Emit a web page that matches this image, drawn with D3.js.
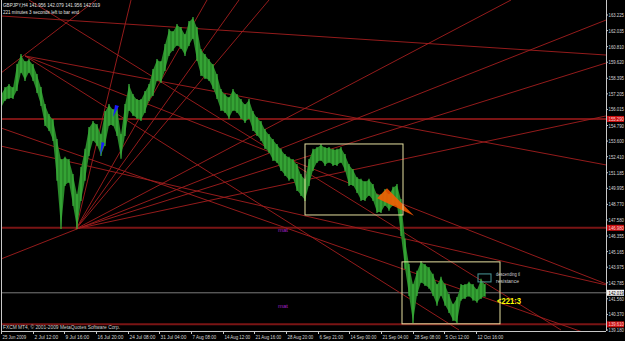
<!DOCTYPE html>
<html><head><meta charset="utf-8">
<script src="https://cdn.jsdelivr.net/npm/d3@7"></script>
<style>body{margin:0;background:#000;overflow:hidden}svg{display:block}text{font-family:"Liberation Sans",Arial,sans-serif}</style>
</head><body>
<svg id="c" width="625" height="341"></svg>
<script>
// ---- data (H4 bars, sampled every 4 bars) ----
const barStep = 4;
const high = [157.12,157.66,157.88,157.66,159.41,160.17,159.64,159.79,159.41,158.65,157.66,156.36,155.60,155.21,153.69,152.16,152.32,152.16,151.02,149.49,151.55,152.93,154.60,155.06,154.83,154.07,155.82,156.36,155.98,156.13,154.07,156.36,157.88,157.12,156.74,156.74,157.35,157.88,159.03,159.79,159.64,160.94,162.08,161.93,162.46,162.23,161.70,162.69,163.00,162.23,160.56,160.17,159.79,159.41,158.65,157.50,157.12,156.89,157.50,157.12,156.74,156.36,156.74,155.82,155.37,155.06,154.45,154.07,153.69,153.31,152.93,152.54,152.32,152.16,151.78,151.02,150.64,152.16,152.93,153.08,153.31,153.08,153.08,152.93,152.93,153.08,152.54,151.78,151.40,150.79,150.64,150.48,150.64,150.25,149.49,149.49,149.87,149.49,150.03,150.25,149.11,146.06,144.15,142.62,143.62,144.38,144.15,143.92,143.39,142.62,143.16,142.62,141.86,141.10,141.63,142.62,142.62,142.78,142.62,142.24,143.01,142.62];
const low = [156.13,156.74,156.89,156.89,157.50,158.88,158.27,158.88,158.27,157.35,156.36,154.83,154.45,153.69,150.64,146.97,150.25,150.48,148.73,146.97,149.11,150.64,152.54,153.69,153.31,152.54,153.31,154.83,154.83,154.07,152.32,154.07,155.98,155.60,155.37,155.21,155.82,156.74,157.12,158.27,158.11,159.03,160.17,160.56,160.94,160.71,160.17,160.94,161.47,159.79,158.65,158.42,158.27,157.66,156.89,155.98,155.82,155.37,155.98,155.82,155.37,155.06,155.37,154.45,154.07,153.69,153.08,152.77,152.16,152.01,151.40,151.02,150.64,150.79,149.87,149.49,149.11,150.25,151.40,152.01,152.16,151.78,152.01,151.78,151.78,152.01,151.40,150.25,150.25,149.72,149.11,149.11,149.49,149.11,148.19,148.19,148.73,148.35,148.73,148.73,146.44,143.92,141.86,139.80,141.86,142.85,142.62,142.40,141.86,141.10,141.86,141.10,140.56,139.95,139.80,141.48,141.63,141.79,141.48,141.33,141.63,141.79];

const priceTicks = [163.225,162.035,160.810,159.620,158.395,157.205,156.015,154.790,153.600,152.410,151.185,149.995,148.770,147.580,146.355,145.165,143.975,142.785,141.560,140.370,139.180];
const priceTickLabels = ["163.225","162.035","160.810","159.620","158.395","157.205","156.015","154.790","153.600","152.410","151.185","149.995","148.770","147.580","146.355","145.165","143.975","142.785","141.560","140.370","139.180"];
const dateBars = [0,32,63,95,127,158,190,222,253,285,317,348,380,412,443,475];
const dateLabels = ["25 Jun 2009","2 Jul 12:00","9 Jul 16:00","16 Jul 20:00","24 Jul 08:00","31 Jul 04:00","7 Aug 08:00","14 Aug 12:00","21 Aug 16:00","28 Aug 20:00","6 Sep 21:00","14 Sep 00:00","21 Sep 04:00","28 Sep 08:00","5 Oct 12:00","12 Oct 16:00"];

const hLevels = [155.290, 146.980, 139.610];
const hLevelLabels = ["155.290","146.980","139.610"];
const bid = 142.019;
const bidLabel = "142.019";

// trendlines: [bar1, price1, bar2, price2]
const trendlines = [
  [0,163.15,605,160.17],
  [0,158.80,95,164.37],
  [24,160.10,605,151.78],
  [24,160.10,605,142.70],
  [24,160.10,458,139.18],
  [0,144.60,605,162.84],
  [75,146.90,605,159.56],
  [75,146.90,605,155.52],
  [75,146.90,510,164.37],
  [75,146.90,268,164.37],
  [75,146.90,238,164.37],
  [75,146.90,206,164.37],
  [75,146.90,130,164.37],
  [0,153.22,605,142.62],
  [0,154.60,605,138.40],
  [28,164.37,560,139.18]
];
// rectangles: [bar1, price1, bar2, price2]
const boxes = [[304,153.38,402,147.96],[401,144.38,499,139.65]];
const smallBox = [477,143.46,490,142.85];
const orangeTri = [[376,149.24],[386,150.00],[413,147.90]];
const blueTris = [[[112,155.44],[114,156.35],[118,156.28]],[[99,152.46],[100.5,153.53],[103.5,153.45]]];
const notes = [
  {bar:277, price:146.66, text:"mat"},
  {bar:277, price:140.86, text:"mat"}
];

// ---- drawing ----
const W=625, H=341, plotR=606, plotB=331;
const svg = d3.select("#c");
svg.append("rect").attr("width",W).attr("height",H).attr("fill","#000");
const x = d3.scaleLinear().domain([0,605]).range([1,606]);
const y = d3.scaleLinear().domain([139.18,163.225]).range([330,15]);

svg.append("defs").append("clipPath").attr("id","clip")
  .append("rect").attr("x",1).attr("y",0).attr("width",plotR-1).attr("height",plotB);
const g = svg.append("g").attr("clip-path","url(#clip)");

// horizontal levels
g.selectAll("line.h").data(hLevels).join("line")
  .attr("x1",0).attr("x2",plotR).attr("y1",d=>y(d)).attr("y2",d=>y(d))
  .attr("stroke","#7a1414").attr("stroke-width",2);
// bid line
g.append("line").attr("x1",0).attr("x2",plotR).attr("y1",y(bid)).attr("y2",y(bid))
  .attr("stroke","#9a9a9a").attr("stroke-width",0.8);

// trendlines
g.selectAll("line.t").data(trendlines).join("line")
  .attr("x1",d=>x(d[0])).attr("y1",d=>y(d[1])).attr("x2",d=>x(d[2])).attr("y2",d=>y(d[3]))
  .attr("stroke","#a41e1e").attr("stroke-width",0.9);

// price ribbon
const bars = high.map((h,i)=>({b:i*barStep,h,l:low[i]}));
g.append("path").datum(bars)
  .attr("d",d3.area().x(d=>x(d.b)).y0(d=>y(d.l)).y1(d=>y(d.h)))
  .attr("fill","#2a8a2a");
g.selectAll("line.bar").data(bars).join("line")
  .attr("x1",d=>x(d.b)).attr("x2",d=>x(d.b)).attr("y1",d=>y(d.h)-1).attr("y2",d=>y(d.l)+1)
  .attr("stroke","#3cb43c").attr("stroke-width",1.2);

// triangles (drawn over price, slightly transparent)
g.append("polygon").attr("points",orangeTri.map(p=>[x(p[0]),y(p[1])].join(",")).join(" "))
  .attr("fill","#ff5a00").attr("fill-opacity",0.85);
g.selectAll("polygon.b").data(blueTris).join("polygon")
  .attr("points",t=>t.map(p=>[x(p[0]),y(p[1])].join(",")).join(" "))
  .attr("fill","#1a1aff");

// boxes
g.selectAll("rect.box").data(boxes).join("rect")
  .attr("x",d=>x(d[0])).attr("y",d=>y(d[1])).attr("width",d=>x(d[2])-x(d[0])).attr("height",d=>y(d[3])-y(d[1]))
  .attr("fill","none").attr("stroke","#e6e0a0").attr("stroke-width",1);
g.append("rect").attr("x",x(smallBox[0])).attr("y",y(smallBox[1]))
  .attr("width",x(smallBox[2])-x(smallBox[0])).attr("height",y(smallBox[3])-y(smallBox[1]))
  .attr("fill","none").attr("stroke","#4a9a9a").attr("stroke-width",1);

// notes
g.selectAll("text.n").data(notes).join("text")
  .attr("x",d=>x(d.bar)).attr("y",d=>y(d.price)).text(d=>d.text)
  .attr("fill","#a020c0").attr("font-size",6);
svg.append("text").attr("x",x(495)).attr("y",y(143.31)).text("descending tl")
  .attr("fill","#d0d0d0").attr("font-size",5.5).attr("textLength",24).attr("lengthAdjust","spacingAndGlyphs");
svg.append("text").attr("x",x(495)).attr("y",y(142.77)).text("resistance")
  .attr("fill","#d0d0d0").attr("font-size",5.5).attr("textLength",23).attr("lengthAdjust","spacingAndGlyphs");
svg.append("text").attr("x",x(496)).attr("y",y(141.20)).text("<221:3")
  .attr("fill","#ffff00").attr("font-size",8.5).attr("font-weight","bold").attr("textLength",24).attr("lengthAdjust","spacingAndGlyphs");

// frame
svg.append("line").attr("x1",plotR+0.5).attr("x2",plotR+0.5).attr("y1",0).attr("y2",plotB).attr("stroke","#c8c8c8");
svg.append("line").attr("x1",1.5).attr("x2",1.5).attr("y1",0).attr("y2",plotB).attr("stroke","#c8c8c8");
svg.append("line").attr("x1",1).attr("x2",plotR).attr("y1",plotB+0.5).attr("y2",plotB+0.5).attr("stroke","#c8c8c8");

// right axis: small font so labels fit naturally inside the window
const labelX = 608.5, labelFs = 4.3;
const ra = svg.append("g");
function axisLabel(v, txt, fill){
  ra.append("text").attr("transform",`translate(${labelX},${y(v)+2}) scale(1,1.2)`)
    .text(txt).attr("fill",fill).attr("font-size",labelFs);
}
priceTicks.forEach((v,i)=>{
  ra.append("line").attr("x1",plotR).attr("x2",plotR+2).attr("y1",y(v)).attr("y2",y(v)).attr("stroke","#c8c8c8");
  axisLabel(v, priceTickLabels[i], "#d8d8d8");
});
hLevels.forEach((v,i)=>{
  ra.append("rect").attr("x",plotR+1).attr("y",y(v)-3).attr("width",17).attr("height",6).attr("fill","#c81010");
  axisLabel(v, hLevelLabels[i], "#ffd0d0");
});
ra.append("rect").attr("x",plotR+1).attr("y",y(bid)-3).attr("width",17).attr("height",6).attr("fill","#f0f0f0");
axisLabel(bid, bidLabel, "#000");

// bottom axis
dateBars.forEach((b,i)=>{
  svg.append("line").attr("x1",x(b)+0.5).attr("x2",x(b)+0.5).attr("y1",plotB).attr("y2",plotB+3).attr("stroke","#c8c8c8");
  svg.append("text").attr("x",x(b)+1.5).attr("y",338.5).text(dateLabels[i])
    .attr("fill","#d8d8d8").attr("font-size",5.5).attr("textLength",dateLabels[i].length*2.15).attr("lengthAdjust","spacingAndGlyphs");
});

// header & footer texts
svg.append("text").attr("x",3).attr("y",7).text("GBPJPY,H4  141.956 142.079 141.956 142.019")
  .attr("fill","#e0e0e0").attr("font-size",5.5).attr("textLength",97).attr("lengthAdjust","spacingAndGlyphs");
svg.append("text").attr("x",3).attr("y",13.5).text("221 minutes 3 seconds left to bar end")
  .attr("fill","#e0e0e0").attr("font-size",5.5).attr("textLength",76).attr("lengthAdjust","spacingAndGlyphs");
svg.append("text").attr("x",3).attr("y",329).text("FXCM MT4, © 2001-2009 MetaQuotes Software Corp.")
  .attr("fill","#d0d0d0").attr("font-size",5.5).attr("textLength",117).attr("lengthAdjust","spacingAndGlyphs");
</script>
</body></html>
